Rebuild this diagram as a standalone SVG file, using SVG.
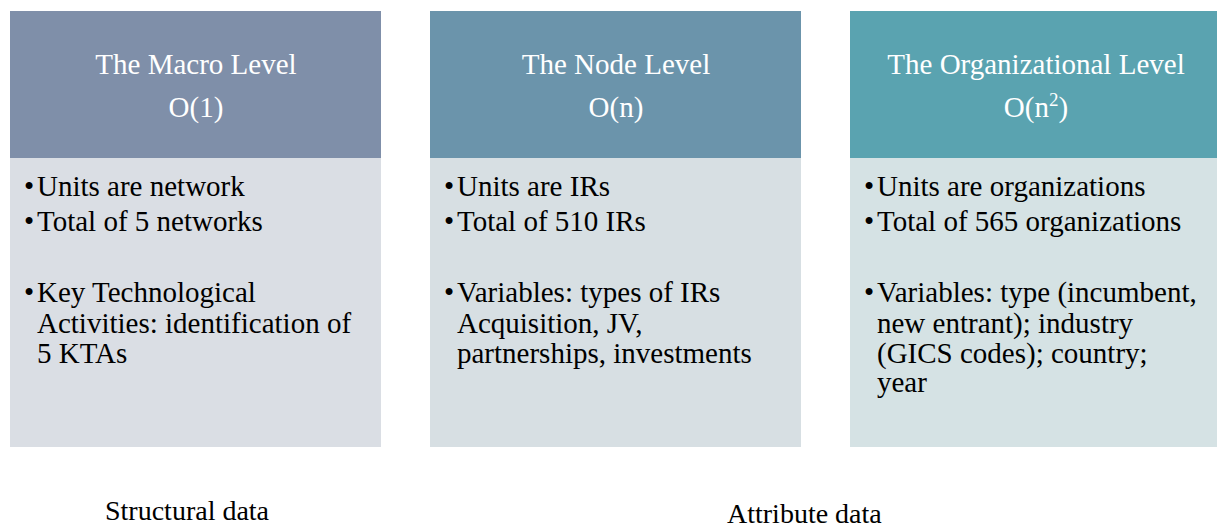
<svg xmlns="http://www.w3.org/2000/svg" width="1217" height="527" viewBox="0 0 1217 527">
<style>
text{font-family:"Liberation Serif","Times New Roman",serif;}
.hd{font-size:29px;fill:#ffffff;text-anchor:middle;}
.bd{font-size:29px;fill:#000000;}
.lb{font-size:28px;fill:#000000;}
</style>
<rect width="1217" height="527" fill="#ffffff"/>
<g id="macro">
<rect x="10" y="11" width="371" height="147" fill="#7f8fa9"/>
<rect x="10" y="158" width="371" height="289" fill="#dadee4"/>
<text class="hd" x="196" y="74">The Macro Level</text>
<text class="hd" x="196" y="117">O(1)</text>
<text class="bd" x="24" y="196">•</text>
<text class="bd" x="37" y="196">Units are network</text>
<text class="bd" x="24" y="231">•</text>
<text class="bd" x="37" y="231">Total of 5 networks</text>
<text class="bd" x="24" y="302">•</text>
<text class="bd" x="37" y="302">Key Technological</text>
<text class="bd" x="37" y="333">Activities: identification of</text>
<text class="bd" x="37" y="363">5 KTAs</text>
</g>
<g id="node">
<rect x="430" y="11" width="371" height="147" fill="#6b94ab"/>
<rect x="430" y="158" width="371" height="289" fill="#d7dfe3"/>
<text class="hd" x="616" y="74">The Node Level</text>
<text class="hd" x="616" y="117">O(n)</text>
<text class="bd" x="444" y="196">•</text>
<text class="bd" x="457" y="196">Units are IRs</text>
<text class="bd" x="444" y="231">•</text>
<text class="bd" x="457" y="231">Total of 510 IRs</text>
<text class="bd" x="444" y="302">•</text>
<text class="bd" x="457" y="302">Variables: types of IRs</text>
<text class="bd" x="457" y="333">Acquisition, JV,</text>
<text class="bd" x="457" y="363">partnerships, investments</text>
</g>
<g id="organizational">
<rect x="850" y="11" width="371" height="147" fill="#5aa3b0"/>
<rect x="850" y="158" width="371" height="289" fill="#d5e2e4"/>
<text class="hd" x="1036" y="74">The Organizational Level</text>
<text class="hd" x="1036" y="117">O(n<tspan font-size="19" dy="-11">2</tspan><tspan dy="11">)</tspan></text>
<text class="bd" x="864" y="196">•</text>
<text class="bd" x="877" y="196">Units are organizations</text>
<text class="bd" x="864" y="231">•</text>
<text class="bd" x="877" y="231">Total of 565 organizations</text>
<text class="bd" x="864" y="302">•</text>
<text class="bd" x="877" y="302">Variables: type (incumbent,</text>
<text class="bd" x="877" y="333">new entrant); industry</text>
<text class="bd" x="877" y="363">(GICS codes); country;</text>
<text class="bd" x="877" y="392">year</text>
</g>
<g id="connectors"></g>
<g id="labels">
<text class="lb" x="105" y="520">Structural data</text>
<text class="lb" x="727" y="523">Attribute data</text>
</g>
</svg>
